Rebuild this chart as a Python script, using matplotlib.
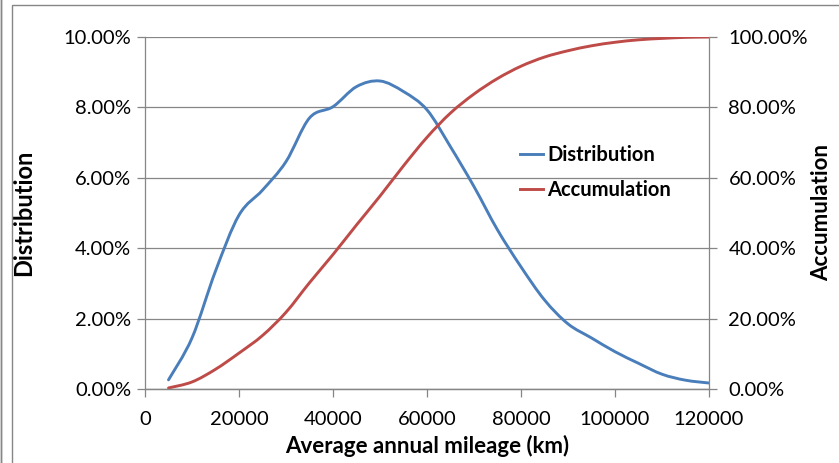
import numpy as np
import matplotlib.pyplot as plt
from matplotlib.ticker import PercentFormatter
from matplotlib.patches import Rectangle, PathPatch
from matplotlib.path import Path
from matplotlib.lines import Line2D

# average annual mileage vs distribution / accumulation

mileage = [5000, 10000, 15000, 20000, 25000, 30000, 35000, 40000, 45000, 50000,
           55000, 60000, 65000, 70000, 75000, 80000, 85000, 90000, 95000, 100000,
           105000, 110000, 115000, 120000]

distribution = [0.26, 1.45, 3.35, 4.94, 5.65, 6.46, 7.70, 8.02, 8.59, 8.75,
                8.45, 7.93, 6.88, 5.75, 4.52, 3.47, 2.53, 1.85, 1.45, 1.06,
                0.73, 0.42, 0.25, 0.17]

accumulation = [0.3, 2.0, 5.6, 10.2, 15.2, 21.8, 30.2, 38.2, 46.6, 54.8,
                63.4, 71.5, 78.4, 83.8, 88.2, 91.7, 94.3, 96.1, 97.5, 98.5,
                99.2, 99.6, 99.9, 100.0]

plt.rcParams['font.family'] = ['Lato', 'DejaVu Sans']

grey = '#868686'
blue = '#4A7EBB'
red = '#BE4B48'


def smooth_path(x, y):
    # excel style smoothed line: bezier segments through every point
    p = np.column_stack([x, y]).astype(float)
    verts = [p[0]]
    codes = [Path.MOVETO]
    n = len(p)
    for i in range(n - 1):
        p0 = p[i - 1] if i > 0 else p[i]
        p3 = p[i + 2] if i + 2 < n else p[i + 1]
        c1 = p[i] + (p[i + 1] - p0) / 6
        c2 = p[i + 1] - (p3 - p[i]) / 6
        verts += [c1, c2, p[i + 1]]
        codes += [Path.CURVE4] * 3
    return Path(verts, codes)


fig = plt.figure(figsize=(8.39, 4.63), dpi=100)
ax = fig.add_axes([145/839, 1-389/463, 564/839, 352/463])
ax2 = ax.twinx()

ax.add_patch(PathPatch(smooth_path(mileage, distribution), fill=False,
                       edgecolor=blue, lw=2.1, capstyle='round', joinstyle='round'))
ax2.add_patch(PathPatch(smooth_path(mileage, accumulation), fill=False,
                        edgecolor=red, lw=2.1, capstyle='round', joinstyle='round'))

ax.set_xlim(0, 120000)
ax.set_ylim(0, 10)
ax2.set_ylim(0, 100)
ax.set_xticks(np.arange(0, 120001, 20000))
ax.set_yticks(np.arange(0, 10.1, 2))
ax2.set_yticks(np.arange(0, 101, 20))
ax.yaxis.set_major_formatter(PercentFormatter(100, decimals=2))
ax2.yaxis.set_major_formatter(PercentFormatter(100, decimals=2))

ax.grid(axis='y', color=grey, lw=0.9)
ax.set_axisbelow(True)

for a in (ax, ax2):
    a.spines['top'].set_visible(False)
    for s in ('left', 'right', 'bottom'):
        a.spines[s].set_color(grey)
        a.spines[s].set_linewidth(0.9)
    a.tick_params(colors=grey, labelcolor='black', labelsize=14.5, length=6, width=0.9)
ax.spines['right'].set_visible(False)
ax2.spines['left'].set_visible(False)
ax.tick_params(axis='y', pad=4)
ax.tick_params(axis='x', pad=10)
ax2.tick_params(axis='y', pad=8)

ax.set_xlabel('Average annual mileage (km)', fontsize=16, fontweight='bold', labelpad=5)
ax.set_ylabel('Distribution', fontsize=17, fontweight='bold', labelpad=20)
ax2.set_ylabel('Accumulation', fontsize=16, fontweight='bold', labelpad=2)

h1 = Line2D([], [], color=blue, lw=2.1)
h2 = Line2D([], [], color=red, lw=2.1)
ax.legend([h1, h2], ['Distribution', 'Accumulation'], loc='upper left',
          bbox_to_anchor=(0.651, 0.716), frameon=False, handlelength=1.15,
          handletextpad=0.2, labelspacing=0.75, borderaxespad=0,
          prop={'size': 14.5, 'weight': 'bold'})

# chart area border
fig.patches.append(Rectangle((12/839, -0.01), 1.0, 1-5/463+0.01, transform=fig.transFigure,
                             fill=False, edgecolor=grey, lw=1.0))
fig.patches.append(Rectangle((1/839, -0.01), 0.0, 1.02, transform=fig.transFigure,
                             fill=False, edgecolor=grey, lw=1.0))

plt.savefig('out.png', dpi=100)
